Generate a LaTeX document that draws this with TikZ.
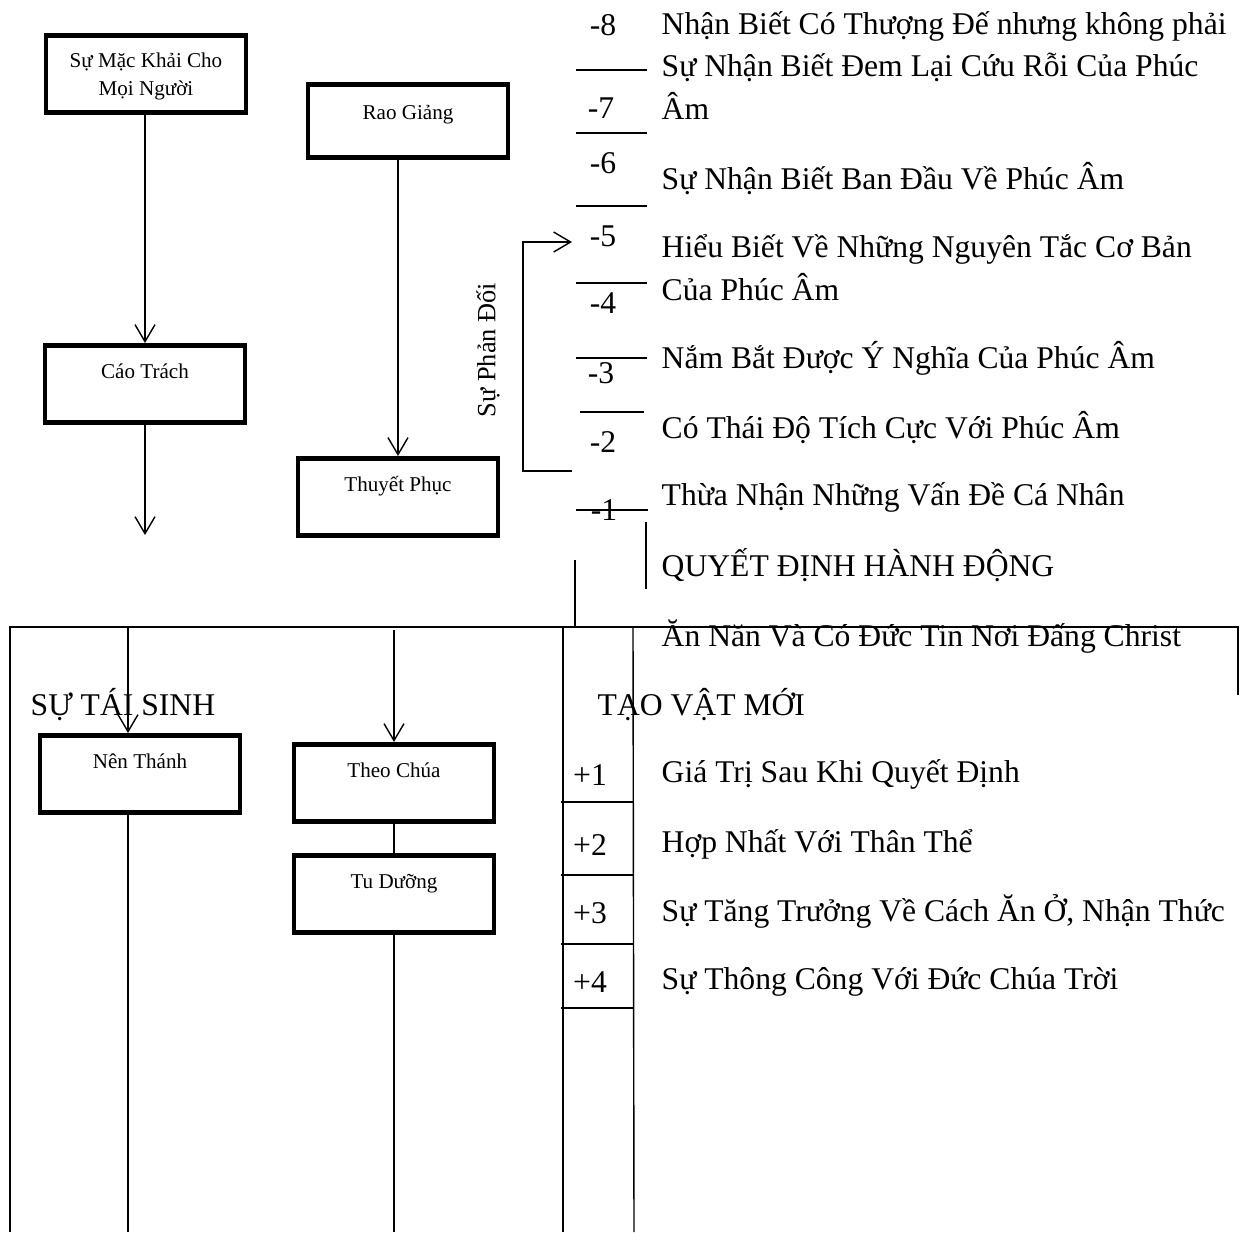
\documentclass[tikz,border=0pt]{standalone}
\usepackage{fontspec}
\setmainfont{Liberation Serif}
\usetikzlibrary{arrows.meta}
\newcommand{\bigtxt}{\fontsize{18}{24}\selectfont}
\newcommand{\boxtxt}{\fontsize{12}{16}\selectfont}
\begin{document}
\begin{tikzpicture}[x=0.02cm,y=-0.02cm,line width=0.8pt,
>={Straight Barb[length=3.4mm,width=4mm]},
stagebox/.style={draw,rectangle,line width=2.6pt,minimum width=4cm,minimum height=1.55cm,align=center,font=\boxtxt,text depth=0.52cm},
steptxt/.style={anchor=base west,inner sep=0pt,font=\bigtxt,align=left},
stepnum/.style={inner sep=0pt,font=\bigtxt}]
\useasboundingbox (0,0) rectangle (1241,1232);

\draw (146,74) node[stagebox,text depth=0cm] (MK) {Sự Mặc Khải Cho\\Mọi Người};
\draw (145,384) node[stagebox] (CT) {Cáo Trách};
\draw (408,121) node[stagebox,minimum height=1.45cm,text depth=0.35cm] (RG) {Rao Giảng};
\draw (398,497) node[stagebox] (TP) {Thuyết Phục};
\draw (140,774) node[stagebox] (NT) {Nên Thánh};
\draw (394,783) node[stagebox] (TC) {Theo Chúa};
\draw (394,894) node[stagebox] (TD) {Tu Dưỡng};

\coordinate (ctend) at (145,535);
\coordinate (ntin) at (128,627);
\coordinate (ntend) at (128,1232);
\coordinate (tcin) at (394,630);
\coordinate (tdend) at (394,1232);

\draw[->] (MK.south -| CT.north) -- (CT.north);
\draw[->] (CT.south) -- (ctend);
\draw[->] (TP.north |- RG.south) -- (TP.north);
\draw[->] (ntin) -- (ntin |- NT.north);
\draw (ntin |- NT.south) -- (ntend);
\draw[->] (tcin) -- (TC.north);
\draw (TC.south) -- (TD.north);
\draw (TD.south) -- (tdend);

\draw (10,1232) -- (10,627) -- (1238,627) -- (1238,695);
\draw (563,627) -- (563,1232);
\draw (633,627) -- (634,1232);
\foreach \y in {802,875,944,1008} \draw (561,\y) -- (634,\y);
\foreach \y in {70,133,206,283,358} \draw (576,\y) -- (647,\y);
\draw (580,412) -- (644,412);
\draw (576,510) -- (648,510);
\draw (646,522) -- (646,589);
\draw (575,560) -- (575,626);

\draw (603,25) node[stepnum] (n8) {-8};
\draw (601,108) node[stepnum] (n7) {-7};
\draw (603,163) node[stepnum] (n6) {-6};
\draw (603,236) node[stepnum] (n5) {-5};
\draw (603,303) node[stepnum] (n4) {-4};
\draw (601,373) node[stepnum] (n3) {-3};
\draw (603,442) node[stepnum] (n2) {-2};
\draw (604,510) node[stepnum] (n1) {-1};
\draw (590,775) node[stepnum] (p1) {+1};
\draw (590,845) node[stepnum] (p2) {+2};
\draw (590,913) node[stepnum] (p3) {+3};
\draw (590,982) node[stepnum] (p4) {+4};

\coordinate (fbstart) at (572,471);
\coordinate (fbend) at (572,242);
\draw[->] (fbstart) -- (523,471) -- (523,242) -- (fbend);
\draw (488,350) node[rotate=90,font=\fontsize{15}{17}\selectfont,inner sep=0pt] (SPD) {Sự Phản Đối};

\draw (661,34) node[steptxt] (t8) {Nhận Biết Có Thượng Đế nhưng không phải};
\draw (661,119) node[steptxt] (t7) {Sự Nhận Biết Đem Lại Cứu Rỗi Của Phúc\\Âm};
\draw (661,189) node[steptxt] (t6) {Sự Nhận Biết Ban Đầu Về Phúc Âm};
\draw (661,300) node[steptxt] (t5) {Hiểu Biết Về Những Nguyên Tắc Cơ Bản\\Của Phúc Âm};
\draw (661,368) node[steptxt] (t4) {Nắm Bắt Được Ý Nghĩa Của Phúc Âm};
\draw (661,438) node[steptxt] (t3) {Có Thái Độ Tích Cực Với Phúc Âm};
\draw (661,505) node[steptxt] (t2) {Thừa Nhận Những Vấn Đề Cá Nhân};
\draw (661,576) node[steptxt] (t1) {QUYẾT ĐỊNH HÀNH ĐỘNG};
\draw (661,646) node[steptxt] (t0) {Ăn Năn Và Có Đức Tin Nơi Đấng Christ};
\draw (30,715) node[steptxt] (TS) {SỰ TÁI SINH};
\draw (597,715) node[steptxt] (VM) {TẠO VẬT MỚI};
\draw (661,782) node[steptxt] (s1) {Giá Trị Sau Khi Quyết Định};
\draw (661,852) node[steptxt] (s2) {Hợp Nhất Với Thân Thể};
\draw (661,921) node[steptxt] (s3) {Sự Tăng Trưởng Về Cách Ăn Ở, Nhận Thức};
\draw (661,989) node[steptxt] (s4) {Sự Thông Công Với Đức Chúa Trời};
\end{tikzpicture}
\end{document}
